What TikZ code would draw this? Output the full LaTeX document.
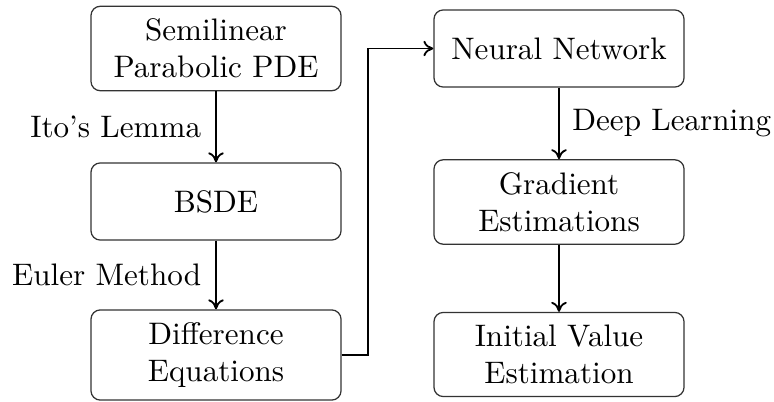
\documentclass[tikz,border=0pt]{standalone}
\usetikzlibrary{arrows.meta}
\begin{document}
\begin{tikzpicture}[x=0.3215pt, y=-0.3215pt,
  box/.style={draw=black!80, line width=0.4pt, rounded corners=3pt, minimum width=80.4pt,
    minimum height=24.8pt, align=center, inner ysep=4pt, inner xsep=3pt},
  conn/.style={semithick, -{To[length=3.2pt,width=5pt]}}]
\useasboundingbox (0,0) rectangle (774,401);
\node[box] (pde) at (216,48.5) {Semilinear\\Parabolic PDE};
\node[box] (bsde) at (216,201.5) {BSDE};
\node[box] (diff) at (216,355) {Difference\\Equations};
\node[box] (nn) at (559,48.5) {Neural Network};
\node[box] (grad) at (559,202) {Gradient\\Estimations};
\node[box] (init) at (559,354.5) {Initial Value\\Estimation};
\coordinate (turn) at (368,200);
\draw[conn] (pde) -- node[left, inner xsep=4.5pt] {Ito's Lemma} (bsde);
\draw[conn] (bsde) -- node[left, inner xsep=4.5pt] {Euler Method} (diff);
\draw[conn] (nn) -- node[right, inner xsep=4pt] {Deep Learning} (grad);
\draw[conn] (grad) -- (init);
\draw[conn] (diff.east) -- (diff.east -| turn) |- (nn.west);
\end{tikzpicture}
\end{document}
